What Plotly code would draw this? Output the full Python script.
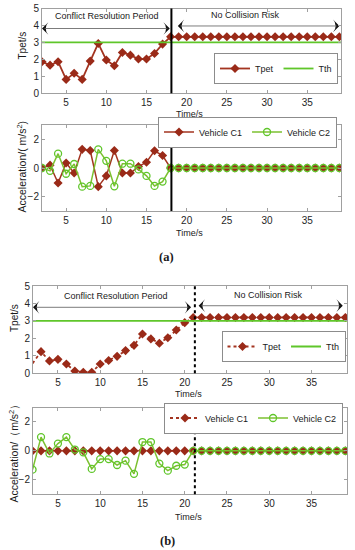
import plotly.graph_objects as go

# ---------------- data ----------------
t_a = [2, 3, 4, 5, 6, 7, 8, 9, 10, 11, 12, 13, 14, 15, 16, 17, 18, 19, 20,
       21, 22, 23, 24, 25, 26, 27, 28, 29, 30, 31, 32, 33, 34, 35, 36, 37, 38, 39]
tpet_a = [1.86, 1.66, 1.86, 0.82, 1.18, 0.82, 1.9, 2.94, 1.96, 1.62, 2.41, 2.25,
          2.02, 2.02, 2.35, 2.9, 3.33, 3.33, 3.33, 3.33, 3.33, 3.33, 3.33, 3.33,
          3.33, 3.33, 3.33, 3.33, 3.33, 3.33, 3.33, 3.33, 3.33, 3.33, 3.33, 3.33,
          3.33, 3.33]
acc_c1_a = [0, 0.2, -1.05, 0.35, -0.35, 1.3, 1.22, -1.3, -0.55, 1.22, -0.35, -0.35,
            0.1, 0.4, 1.2, 0.87, 0, 0, 0, 0, 0, 0, 0, 0, 0, 0, 0, 0, 0, 0, 0, 0,
            0, 0, 0, 0, 0, 0]
acc_c2_a = [0, -0.2, 1.0, -0.4, 0.28, -1.3, -1.25, 1.3, 0.5, -1.28, 0.3, 0.3,
            -0.1, -0.55, -1.25, -0.95, 0, 0, 0, 0, 0, 0, 0, 0, 0, 0, 0, 0, 0, 0,
            0, 0, 0, 0, 0, 0, 0, 0]

t_b = [2, 3, 4, 5, 6, 7, 8, 9, 10, 11, 12, 13, 14, 15, 16, 17, 18, 19, 20,
       21, 22, 23, 24, 25, 26, 27, 28, 29, 30, 31, 32, 33, 34, 35, 36, 37, 38, 39]
tpet_b = [0.57, 1.24, 0.71, 0.8, 0.53, 0.13, 0.06, 0.06, 0.53, 0.73, 0.97, 1.3,
          1.6, 2.25, 1.97, 1.72, 2.04, 2.48, 2.9, 3.2, 3.2, 3.2, 3.2, 3.2, 3.2,
          3.2, 3.2, 3.2, 3.2, 3.2, 3.2, 3.2, 3.2, 3.2, 3.2, 3.2, 3.2, 3.2]
acc_c1_b = [0, 0, 0, 0, 0, 0, 0, 0, 0, 0, 0, 0, 0, 0, 0, 0, 0, 0, 0, 0, 0, 0,
            0, 0, 0, 0, 0, 0, 0, 0, 0, 0, 0, 0, 0, 0, 0, 0]
acc_c2_b = [-1.3, 0.95, -0.18, 0.5, 0.95, 0.09, -0.1, -1.25, -0.57, -0.57, -0.98,
            -0.68, -1.59, 0.61, 0.61, -0.88, -1.37, -1.03, -0.95, 0, 0, 0, 0, 0,
            0, 0, 0, 0, 0, 0, 0, 0, 0, 0, 0, 0, 0, 0]

tth = 3
t_range_a = [2, 39.2]
t_range_b = [2.05, 39.2]
split_a = 18.1
split_b = 21.2

x_ticks = [5, 10, 15, 20, 25, 30, 35]
y_ticks_top = [0, 1, 2, 3, 4, 5]
y_ticks_acc = [-2, 0, 2]

# ---------------- style ----------------
W, H = 355, 550
RED = "#a33420"
REDM = "#9a2a18"
GREEN = "#5fc62a"
GREENL = "#7cc030"
FONT = "Liberation Sans, Arial, sans-serif"
SERIF = "Liberation Serif, Times New Roman, serif"

def px(x):
    return x / W

def py(y):
    return 1 - y / H

fig = go.Figure()

mk_d = dict(symbol="diamond", size=7, color=REDM, line=dict(width=0))
mk_o = dict(symbol="circle-open", size=7, color=GREEN, line=dict(width=1.3))

# panel (a) top
fig.add_trace(go.Scatter(x=t_a, y=tpet_a, mode="lines+markers", name="Tpet",
                         line=dict(color=RED, width=1.8), marker=mk_d,
                         xaxis="x", yaxis="y", legend="legend"))
fig.add_trace(go.Scatter(x=t_range_a, y=[tth, tth], mode="lines", name="Tth",
                         line=dict(color=GREEN, width=1.8),
                         xaxis="x", yaxis="y", legend="legend"))
# panel (a) bottom
fig.add_trace(go.Scatter(x=t_a, y=acc_c1_a, mode="lines+markers", name="Vehicle C1",
                         line=dict(color=RED, width=1.5), marker=mk_d,
                         xaxis="x2", yaxis="y2", legend="legend2"))
fig.add_trace(go.Scatter(x=t_a, y=acc_c2_a, mode="lines+markers", name="Vehicle C2",
                         line=dict(color=GREENL, width=1.5), marker=mk_o,
                         xaxis="x2", yaxis="y2", legend="legend2"))
# panel (b) top
fig.add_trace(go.Scatter(x=t_b, y=tpet_b, mode="lines+markers", name="Tpet",
                         line=dict(color=RED, width=1.8, dash="dot"), marker=mk_d,
                         xaxis="x3", yaxis="y3", legend="legend3"))
fig.add_trace(go.Scatter(x=t_range_b, y=[tth, tth], mode="lines", name="Tth",
                         line=dict(color=GREEN, width=1.8),
                         xaxis="x3", yaxis="y3", legend="legend3"))
# panel (b) bottom
fig.add_trace(go.Scatter(x=t_b, y=acc_c1_b, mode="lines+markers", name="Vehicle C1",
                         line=dict(color=RED, width=1.8, dash="dot"), marker=mk_d,
                         xaxis="x4", yaxis="y4", legend="legend4"))
fig.add_trace(go.Scatter(x=t_b, y=acc_c2_b, mode="lines+markers", name="Vehicle C2",
                         line=dict(color=GREENL, width=1.5), marker=mk_o,
                         xaxis="x4", yaxis="y4", legend="legend4"))

ax_common = dict(showline=True, linecolor="#a0a0a0", linewidth=1, mirror="ticks",
                 ticks="inside", ticklen=3, tickcolor="#a0a0a0", showgrid=False,
                 zeroline=False, tickfont=dict(family=FONT, size=10, color="#262626"))

dom_xa = [px(42), px(341)]
dom_xb = [px(33), px(347)]

layout = dict(
    width=W, height=H, margin=dict(l=0, r=0, t=0, b=0, autoexpand=False),
    paper_bgcolor="white", plot_bgcolor="white",
    font=dict(family=FONT, size=9, color="#1a1a1a"),
    xaxis=dict(domain=dom_xa, range=t_range_a, tickvals=x_ticks, anchor="y", **ax_common),
    yaxis=dict(domain=[py(93.3), py(8.5)], range=[0, 5], tickvals=y_ticks_top,
               anchor="x", **ax_common),
    xaxis2=dict(domain=dom_xa, range=t_range_a, tickvals=x_ticks, anchor="y2", **ax_common),
    yaxis2=dict(domain=[py(211), py(125)], range=[-3, 3], tickvals=y_ticks_acc,
                anchor="x2", **ax_common),
    xaxis3=dict(domain=dom_xb, range=t_range_b, tickvals=x_ticks, anchor="y3", **ax_common),
    yaxis3=dict(domain=[py(373.3), py(286)], range=[0, 5], tickvals=y_ticks_top,
                anchor="x3", **ax_common),
    xaxis4=dict(domain=dom_xb, range=t_range_b, tickvals=x_ticks, anchor="y4", **ax_common),
    yaxis4=dict(domain=[py(494.2), py(407.5)], range=[-3, 3], tickvals=y_ticks_acc,
                anchor="x4", **ax_common),
)

leg_common = dict(orientation="h", bgcolor="white", bordercolor="#8c8c8c",
                  borderwidth=1, font=dict(family=FONT, size=9, color="#1a1a1a"),
                  xanchor="right", yanchor="bottom", itemwidth=30,
                  tracegroupgap=0, itemclick=False)
layout["legend"] = dict(x=px(338), y=py(84), **leg_common)
layout["legend2"] = dict(x=px(337), y=py(147.5), **leg_common)
layout["legend3"] = dict(x=px(345.5), y=py(362), **leg_common)
layout["legend4"] = dict(x=px(343), y=py(433.5), **leg_common)

fig.update_layout(**layout)

# vertical separators
for xr, yr, xv, dash in [("x", "y domain", split_a, "solid"),
                         ("x2", "y2 domain", split_a, "solid"),
                         ("x3", "y3 domain", split_b, "dot"),
                         ("x4", "y4 domain", split_b, "dot")]:
    fig.add_shape(type="line", xref=xr, yref=yr, x0=xv, x1=xv, y0=0, y1=1,
                  line=dict(color="black", width=2, dash=dash))

# double-headed arrows: grey shaft + black heads
def arrow(xa, ya, x0, x1, y):
    fig.add_shape(type="line", xref=xa, yref=ya, x0=x0 + 0.3, x1=x1 - 0.3, y0=y, y1=y,
                  line=dict(color="#5a5a5a", width=0.8))
    fig.add_trace(go.Scatter(x=[x0, x1], y=[y, y], mode="markers", showlegend=False,
                             hoverinfo="skip", xaxis=xa, yaxis=ya, cliponaxis=False,
                             marker=dict(symbol="arrow-wide", size=9, color="#111",
                                         angle=[-90, 90], line=dict(width=0))))

arrow("x", "y", 2.0, 17.9, 3.82)
arrow("x", "y", 18.9, 39.0, 3.97)
arrow("x3", "y3", 2.05, 20.75, 3.78)
arrow("x3", "y3", 21.65, 38.7, 3.87)

ann = []

def label(xref, yref, x, y, text, size=9, angle=0, family=FONT):
    ann.append(dict(xref=xref, yref=yref, x=x, y=y, text=text, showarrow=False,
                    textangle=angle, font=dict(family=family, size=size, color="#1a1a1a"),
                    xanchor="center", yanchor="middle"))

# panel (a)
label("x", "y", 10.1, 4.55, "Conflict Resolution Period")
label("x", "y", 27.3, 4.6, "No Collision Risk")
label("paper", "paper", px(190), py(114), "Time/s")
label("paper", "paper", px(190), py(233), "Time/s")
label("paper", "paper", px(22.5), py(46), "Tpet/s", size=10, angle=-90)
label("paper", "paper", px(20.5), py(167), "Acceleration/( m/s<sup>2</sup>)", size=10.5, angle=-90)
label("paper", "paper", px(166), py(257), "<b>(a)</b>", size=12.5, family=SERIF)

# panel (b)
label("x3", "y3", 11.9, 4.44, "Conflict Resolution Period")
label("x3", "y3", 29.9, 4.48, "No Collision Risk")
label("paper", "paper", px(189), py(394), "Time/s")
label("paper", "paper", px(189), py(517), "Time/s")
label("paper", "paper", px(14), py(318), "Tpet/s", size=10, angle=-90)
label("paper", "paper", px(12.5), py(451), "Acceleration/（m/s<sup>2</sup>）", size=10.5, angle=-90)
label("paper", "paper", px(167), py(541), "<b>(b)</b>", size=12.5, family=SERIF)

fig.update_layout(annotations=ann)
fig.write_html("out.html", config={"displayModeBar": False},
               post_script="document.body.style.margin='0px';")
